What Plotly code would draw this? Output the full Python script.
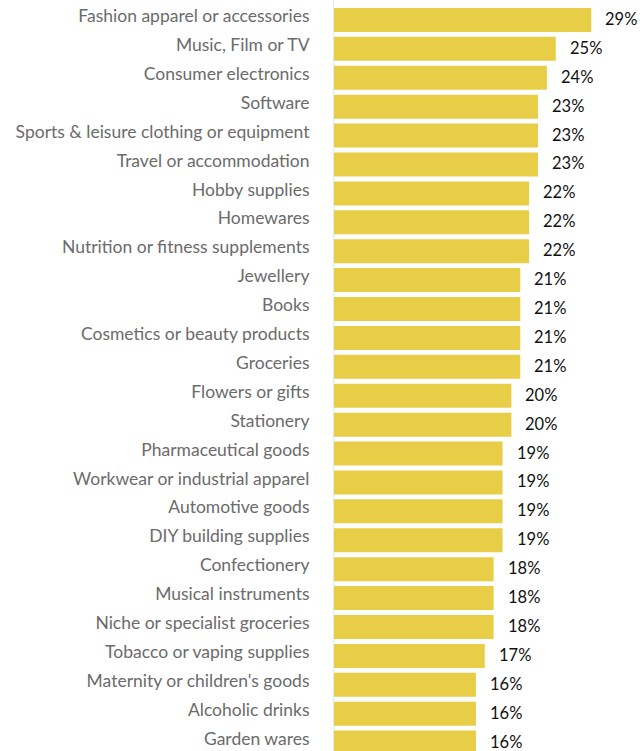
import plotly.graph_objects as go

categories = [
    "Fashion apparel or accessories",
    "Music, Film or TV",
    "Consumer electronics",
    "Software",
    "Sports & leisure clothing or equipment",
    "Travel or accommodation",
    "Hobby supplies",
    "Homewares",
    "Nutrition or fitness supplements",
    "Jewellery",
    "Books",
    "Cosmetics or beauty products",
    "Groceries",
    "Flowers or gifts",
    "Stationery",
    "Pharmaceutical goods",
    "Workwear or industrial apparel",
    "Automotive goods",
    "DIY building supplies",
    "Confectionery",
    "Musical instruments",
    "Niche or specialist groceries",
    "Tobacco or vaping supplies",
    "Maternity or children's goods",
    "Alcoholic drinks",
    "Garden wares",
]
shares = [29, 25, 24, 23, 23, 23, 22, 22, 22, 21, 21, 21, 21,
          20, 20, 19, 19, 19, 19, 18, 18, 18, 17, 16, 16, 16]
value_labels = [f"{v}%" for v in shares]

BAR_COLOR = "#E8CE46"
FONT = "Lato, 'Source Sans Pro', sans-serif"

fig = go.Figure(
    go.Bar(
        x=shares,
        y=categories,
        orientation="h",
        marker=dict(color=BAR_COLOR, line=dict(width=0)),
        hoverinfo="skip",
    )
)

# value labels just past the end of each bar
for cat, v, lab in zip(categories, shares, value_labels):
    fig.add_annotation(
        x=v, y=cat, text=lab, showarrow=False,
        xanchor="left", xshift=12, yshift=1,
        font=dict(family=FONT, size=16.5, color="#111111"),
    )

fig.update_layout(
    width=640,
    height=751,
    margin=dict(l=334, r=0, t=0, b=0),
    paper_bgcolor="white",
    plot_bgcolor="white",
    bargap=0.17,
    showlegend=False,
    font=dict(family=FONT),
)
fig.update_xaxes(
    range=[0, 34.5],
    visible=False,
    showgrid=False,
    zeroline=False,
)
fig.update_yaxes(
    categoryorder="array",
    categoryarray=categories,
    range=[25.29, -0.69],
    showgrid=False,
    zeroline=False,
    showline=True,
    linecolor="#E3EAF4",
    linewidth=1,
    ticks="outside",
    ticklen=20,
    tickcolor="rgba(0,0,0,0)",
    ticklabelshift=4,
    tickfont=dict(family=FONT, size=17.5, color="#6B6B6B"),
)

fig.write_html("out.html")
